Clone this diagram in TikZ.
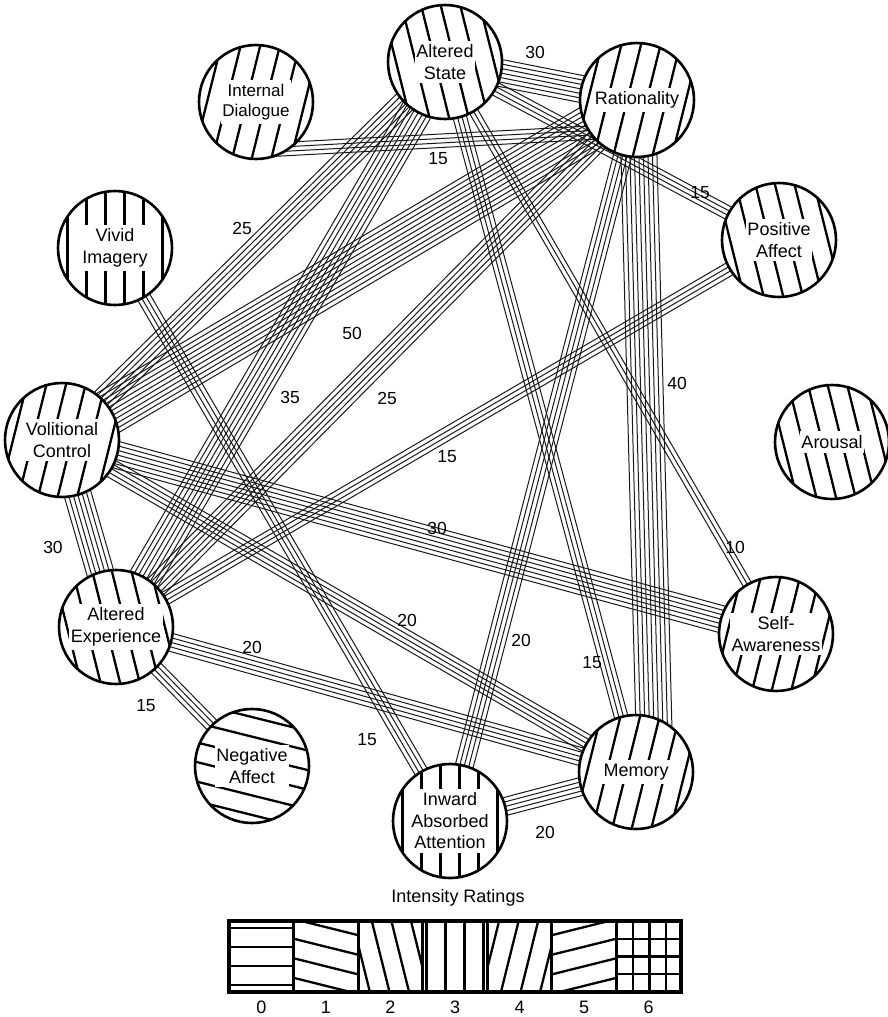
\documentclass[tikz,border=0pt]{standalone}
\usepackage{fontspec}
\setmainfont{Liberation Sans}
\usetikzlibrary{calc}
\pgfdeclarelayer{bg}
\pgfsetlayers{bg,main}
\tikzset{
  bline/.style={line width=1pt, black!90},
  hatch/.style={line width=2.3pt, black},
  hnode/.style={circle, fill=white, minimum size=114pt, inner sep=0pt},
  rim/.style={line width=2.6pt, black},
  ntext/.style={fill=white, inner xsep=1.5pt, inner ysep=4pt, align=center, font=\fontsize{18}{21.5}\selectfont},
  wlabel/.style={font=\fontsize{17.5}{20}\selectfont, inner sep=0pt},
}
\newcommand\hatchin[2]{%
  \begin{scope}
    \clip (#1.center) circle (57);
    \begin{scope}[shift={(#1.center)}, rotate=#2]
      \foreach \k in {-4,...,3} \draw[hatch] ({(\k+0.5)*19},-70) -- ({(\k+0.5)*19},70);
    \end{scope}
  \end{scope}
  \draw[rim] (#1.center) circle (57);
}
\newcommand\bundle[3]{%
  \coordinate (bA0) at (#1);
  \coordinate (bB0) at (#2);
  \coordinate (bA) at ($(bA0)!-20pt!(bB0)$);
  \coordinate (bB) at ($(bB0)!-20pt!(bA0)$);
  \foreach \k in {0,...,#3}{%
    \pgfmathsetmacro\off{(\k-#3/2)*4.5}%
    \draw[bline] ($(bA)!\off pt!90:(bB)$) -- ($(bB)!\off pt!-90:(bA)$);
  }%
}
\begin{document}
\begin{tikzpicture}[x=1pt,y=-1pt]
\useasboundingbox (0,0) rectangle (888,1017);
% nodes
\node[hnode] (AS) at (445,62) {};
\node[hnode] (ID) at (256,102) {};
\node[hnode] (RA) at (637,100) {};
\node[hnode] (PA) at (779,240) {};
\node[hnode] (VI) at (115,248) {};
\node[hnode] (VC) at (62,440) {};
\node[hnode] (AE) at (116,627) {};
\node[hnode] (NA) at (252,766) {};
\node[hnode] (IA) at (450,821) {};
\node[hnode] (ME) at (636,772) {};
\node[hnode] (SA) at (776,634) {};
\node[hnode] (AR) at (832,442) {};
\hatchin{AS}{14}
\hatchin{ID}{-14}
\hatchin{RA}{-14}
\hatchin{PA}{14}
\hatchin{VI}{0}
\hatchin{VC}{-14}
\hatchin{AE}{14}
\hatchin{NA}{76}
\hatchin{IA}{0}
\hatchin{ME}{-14}
\hatchin{SA}{-14}
\hatchin{AR}{14}
\node[ntext] (AS-t) at (AS) {Altered\\State};
\node[ntext, font=\fontsize{17}{20.5}\selectfont] (ID-t) at (ID) {Internal\\Dialogue};
\node[ntext] (RA-t) at (RA) {Rationality};
\node[ntext] (PA-t) at (PA) {Positive\\Affect};
\node[ntext] (VI-t) at (VI) {Vivid\\Imagery};
\node[ntext] (VC-t) at (VC) {Volitional\\Control};
\node[ntext] (AE-t) at (AE) {Altered\\Experience};
\node[ntext] (NA-t) at (NA) {Negative\\Affect};
\node[ntext] (IA-t) at (IA) {Inward\\Absorbed\\Attention};
\node[ntext] (ME-t) at (ME) {Memory};
\node[ntext] (SA-t) at (SA) {Self-\\Awareness};
\node[ntext] (AR-t) at (AR) {Arousal};
% connectors
\begin{pgfonlayer}{bg}
\bundle{AS}{RA}{6}
\bundle{ID.-55}{RA.215}{3}
\bundle{AS}{PA}{3}
\bundle{RA.-88}{ME.72}{8}
\bundle{VC}{RA}{10}
\bundle{VC}{AS}{5}
\bundle{AE}{AS}{7}
\bundle{AE}{RA}{5}
\bundle{AE}{PA}{3}
\bundle{VC}{SA}{6}
\bundle{VC}{ME}{4}
\bundle{AE}{ME}{4}
\bundle{AE}{NA}{3}
\bundle{VI}{IA}{3}
\bundle{AS}{ME}{3}
\bundle{AS}{SA}{2}
\bundle{RA}{IA}{4}
\bundle{IA}{ME}{4}
\bundle{VC}{AE}{6}
\end{pgfonlayer}
% weights
\node[wlabel] (l1) at (535,52) {30};
\node[wlabel] (l2) at (438,159) {15};
\node[wlabel] (l3) at (700,193) {15};
\node[wlabel] (l4) at (677,383) {40};
\node[wlabel] (l5) at (352,333) {50};
\node[wlabel] (l6) at (242,228) {25};
\node[wlabel] (l7) at (290,397) {35};
\node[wlabel] (l8) at (387,398) {25};
\node[wlabel] (l9) at (447,457) {15};
\node[wlabel] (l10) at (437,528) {30};
\node[wlabel] (l11) at (407,620) {20};
\node[wlabel] (l12) at (252,647) {20};
\node[wlabel] (l13) at (146,706) {15};
\node[wlabel] (l14) at (367,740) {15};
\node[wlabel] (l15) at (592,663) {15};
\node[wlabel] (l16) at (735,547) {10};
\node[wlabel] (l17) at (521,640) {20};
\node[wlabel] (l18) at (545,832) {20};
\node[wlabel] (l19) at (53,547) {30};
% legend
\node[wlabel, font=\fontsize{18}{20}\selectfont] (title) at (458,898) {Intensity Ratings};
\foreach \i/\ang in {0/90,1/76,2/14,3/0,4/-14,5/104}{
  \begin{scope}
    \clip (229+\i*64.57,921) rectangle (229+\i*64.57+64.57,992);
    \begin{scope}[shift={(229+\i*64.57+32.3,956.5)}, rotate=\ang]
      \foreach \k in {-3,...,2} \draw[hatch] ({(\k+0.5)*19},-60) -- ({(\k+0.5)*19},60);
    \end{scope}
  \end{scope}
}
\foreach \k in {1,2,3}{
  \draw[hatch] (616.4+\k*16.5,921) -- (616.4+\k*16.5,992);
  \draw[hatch] (615,921+\k*17.7) -- (681,921+\k*17.7);
}
\foreach \i in {1,...,6} \draw[line width=2.8pt] (229+\i*64.57,921) -- (229+\i*64.57,992);
\draw[line width=3.5pt] (229,921) rectangle (681,992);
\foreach \i in {0,...,6} \node[wlabel, font=\fontsize{18}{20}\selectfont] (n\i) at (261.3+\i*64.57,1007) {\i};
\end{tikzpicture}
\end{document}
